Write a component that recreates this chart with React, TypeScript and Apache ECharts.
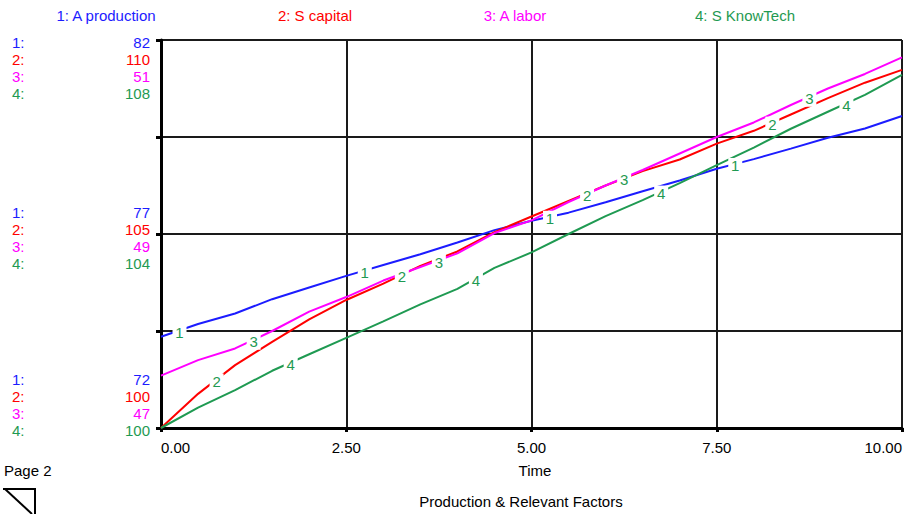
import React, { useEffect, useRef } from "react";
import * as echarts from "echarts";

const time = [0, 0.5, 1, 1.5, 2, 2.5, 3, 3.5, 4, 4.5, 5, 5.5, 6, 6.5, 7, 7.5, 8, 8.5, 9, 9.5, 10];
const aProduction = [74.35, 74.68, 74.95, 75.32, 75.62, 75.92, 76.2, 76.48, 76.78, 77.1, 77.34, 77.55, 77.82, 78.1, 78.38, 78.68, 78.93, 79.2, 79.48, 79.72, 80.04];
const sCapital = [100, 100.88, 101.62, 102.22, 102.8, 103.3, 103.72, 104.18, 104.55, 105.05, 105.45, 105.85, 106.25, 106.62, 106.92, 107.33, 107.66, 108.08, 108.5, 108.9, 109.23];
const aLabor = [47.54, 47.7, 47.82, 48.0, 48.2, 48.35, 48.52, 48.66, 48.8, 49.01, 49.14, 49.33, 49.5, 49.66, 49.83, 50.0, 50.15, 50.33, 50.5, 50.65, 50.82];
const sKnowTech = [100, 100.42, 100.78, 101.18, 101.52, 101.86, 102.2, 102.55, 102.87, 103.3, 103.62, 104.0, 104.37, 104.7, 105.05, 105.42, 105.78, 106.17, 106.52, 106.87, 107.28];

const seriesNames = ["A production", "S capital", "A labor", "S KnowTech"];
const scaleMax = [82, 110, 51, 108];
const scaleMid = [77, 105, 49, 104];
const scaleMin = [72, 100, 47, 100];
const xTicks = [0, 2.5, 5, 7.5, 10];
const labelTimes = [0.25, 0.75, 1.25, 1.75];

const colors = ["#1c1cff", "#ff0000", "#ff00ff", "#1f9a52"];
const labelGreen = "#1f9a52";
const FONT = "'Liberation Sans', Arial, sans-serif";

function interp(arr: number[], t: number) {
  for (let i = 0; i < time.length - 1; i++) {
    if (t >= time[i] && t <= time[i + 1]) {
      const f = (t - time[i]) / (time[i + 1] - time[i]);
      return arr[i] + f * (arr[i + 1] - arr[i]);
    }
  }
  return arr[arr.length - 1];
}

export default function App() {
  const ref = useRef<HTMLDivElement>(null);
  useEffect(() => {
    if (!ref.current) return;
    const chart = echarts.init(ref.current, undefined, { renderer: "svg" });
    const allData = [aProduction, sCapital, aLabor, sKnowTech];

    const series = allData.map((arr, i) => {
      const marks: any[] = [];
      for (let k = 0; k < 4; k++) {
        const t = labelTimes[i] + 2.5 * k;
        if (t <= 10) marks.push({ coord: [t, interp(arr, t)], value: String(i + 1) });
      }
      return {
        type: "line",
        name: seriesNames[i],
        yAxisIndex: i + 1,
        data: time.map((t, j) => [t, arr[j]]),
        showSymbol: false,
        symbol: "none",
        lineStyle: { color: colors[i], width: 2 },
        itemStyle: { color: colors[i] },
        z: 3 + i,
        markPoint: {
          symbol: "rect",
          symbolSize: [14, 16],
          symbolOffset: [0, 2],
          z: 20,
          itemStyle: { color: "#ffffff" },
          label: {
            show: true,
            position: "inside",
            formatter: String(i + 1),
            color: labelGreen,
            fontSize: 15,
            fontFamily: FONT,
          },
          data: marks,
        },
      };
    });

    const rowYs = [
      [42, 59, 76, 93],
      [212, 229, 246, 263],
      [379, 396, 413, 430],
    ];
    const groupVals = [scaleMax, scaleMid, scaleMin];
    const graphic: any[] = [];
    groupVals.forEach((vals, g) => {
      vals.forEach((v, i) => {
        graphic.push({
          type: "text",
          x: 12,
          y: rowYs[g][i],
          style: { text: `${i + 1}:`, fill: colors[i], font: `15px ${FONT}`, textAlign: "left", textVerticalAlign: "middle" },
        });
        graphic.push({
          type: "text",
          x: 150,
          y: rowYs[g][i],
          style: { text: String(v), fill: colors[i], font: `15px ${FONT}`, textAlign: "right", textVerticalAlign: "middle" },
        });
      });
    });
    const legendX = [106, 315, 515, 745];
    seriesNames.forEach((n, i) => {
      graphic.push({
        type: "text",
        x: legendX[i],
        y: 15,
        style: { text: `${i + 1}: ${n}`, fill: colors[i], font: `15px ${FONT}`, textAlign: "center", textVerticalAlign: "middle" },
      });
    });
    graphic.push({
      type: "text",
      x: 535,
      y: 470,
      style: { text: "Time", fill: "#000", font: `15px ${FONT}`, textAlign: "center", textVerticalAlign: "middle" },
    });
    graphic.push({
      type: "text",
      x: 521,
      y: 501,
      style: { text: "Production & Relevant Factors", fill: "#000", font: `15px ${FONT}`, textAlign: "center", textVerticalAlign: "middle" },
    });
    graphic.push({
      type: "text",
      x: 4,
      y: 470,
      style: { text: "Page 2", fill: "#000", font: `15px ${FONT}`, textAlign: "left", textVerticalAlign: "middle" },
    });
    graphic.push({
      type: "polyline",
      shape: { points: [[3, 489], [35, 489], [35, 514]] },
      style: { stroke: "#000", lineWidth: 2, fill: null },
    });
    graphic.push({
      type: "line",
      shape: { x1: 5, y1: 489, x2: 32, y2: 514 },
      style: { stroke: "#000", lineWidth: 2 },
    });

    chart.setOption({
      animation: false,
      backgroundColor: "#ffffff",
      grid: { left: 161, right: 7, top: 40, bottom: 86, containLabel: false },
      xAxis: {
        type: "value",
        min: 0,
        max: 10,
        interval: 2.5,
        axisLine: { show: true, onZero: false, lineStyle: { color: "#000", width: 3 } },
        axisTick: { show: true, length: 4, lineStyle: { color: "#000", width: 3 } },
        splitLine: { show: true, lineStyle: { color: "#1a1a1a", width: 2 } },
        axisLabel: {
          formatter: (v: number) => (xTicks.includes(v) ? v.toFixed(2) : ""),
          color: "#000",
          fontSize: 15,
          fontFamily: FONT,
          margin: 12,
          alignMinLabel: "left",
          alignMaxLabel: "right",
        },
      },
      yAxis: [
        {
          type: "value",
          min: 0,
          max: 4,
          interval: 1,
          position: "left",
          axisLine: { show: true, onZero: false, lineStyle: { color: "#000", width: 3 } },
          axisTick: { show: true, length: 5, lineStyle: { color: "#000", width: 3 } },
          splitLine: { show: true, lineStyle: { color: "#1a1a1a", width: 2 } },
          axisLabel: { show: false },
        },
        ...scaleMin.map((mn, i) => ({
          type: "value",
          min: mn,
          max: scaleMax[i],
          show: false,
          splitLine: { show: false },
        })),
      ],
      series,
      graphic,
    });
    return () => chart.dispose();
  }, []);
  return <div ref={ref} style={{ position: "fixed", left: 0, top: 0, width: 909, height: 514, background: "#fff" }} />;
}
